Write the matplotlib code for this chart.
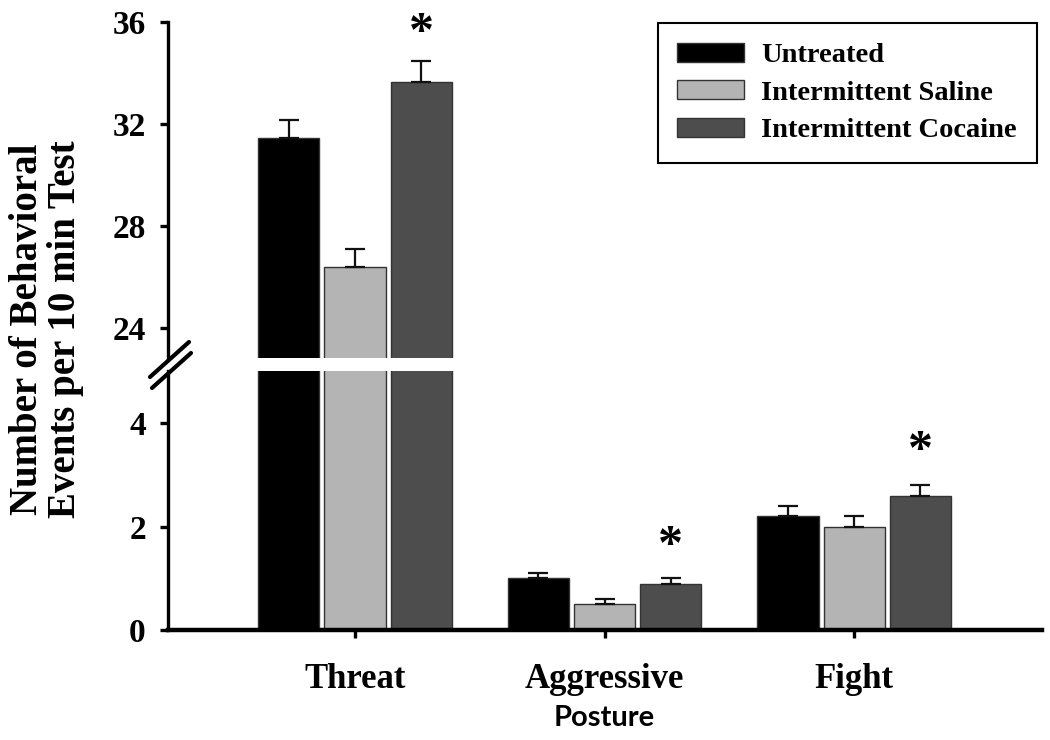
import matplotlib
matplotlib.use("Agg")
import matplotlib.pyplot as plt
import numpy as np
from matplotlib.lines import Line2D
from matplotlib.patches import Patch

categories = ["Threat", "Aggressive", "Fight"]
series_names = ["Untreated", "Intermittent Saline", "Intermittent Cocaine"]
untreated = [31.45, 1.0, 2.2]
saline = [26.4, 0.5, 2.0]
cocaine = [33.65, 0.9, 2.6]
untreated_err = [0.72, 0.1, 0.2]
saline_err = [0.68, 0.1, 0.2]
cocaine_err = [0.8, 0.1, 0.2]
colors = ["#000000", "#b4b4b4", "#4d4d4d"]

serif = ["Liberation Serif", "DejaVu Serif"]

fig = plt.figure(figsize=(10.5, 7.4), dpi=100)
ax_top = fig.add_axes([0.16, 0.5162, 0.8324, 0.4541])
ax_bot = fig.add_axes([0.16, 0.1486, 0.8324, 0.35])

x = np.arange(len(categories))
width = 0.245
offset = 0.265
all_vals = [untreated, saline, cocaine]
all_errs = [untreated_err, saline_err, cocaine_err]

for ax in (ax_top, ax_bot):
    for i, (vals, errs) in enumerate(zip(all_vals, all_errs)):
        xs = x + (i - 1) * offset
        ax.bar(xs, vals, width, color=colors[i], edgecolor="#333333", linewidth=1.0, zorder=2)
        ax.errorbar(xs, vals, yerr=[np.zeros(len(vals)), errs], fmt="none",
                    ecolor="#111111", elinewidth=1.6, capsize=7.0, capthick=1.6, zorder=3)
    ax.set_xlim(-0.7495, 2.753)
    ax.spines["right"].set_visible(False)
    ax.spines["top"].set_visible(False)
    ax.spines["left"].set_linewidth(2.4)
    ax.tick_params(axis="y", direction="out", length=6, width=2.4, pad=10)

ax_top.set_ylim(22.82, 36)
ax_top.set_yticks([24, 28, 32, 36])
ax_top.set_yticklabels(["24", "28", "32", "36"], fontfamily=serif, fontweight="bold", fontsize=24)
ax_top.spines["bottom"].set_visible(False)
ax_top.set_xticks([])

ax_bot.set_ylim(0, 5.01)
ax_bot.set_yticks([0, 2, 4])
ax_bot.set_yticklabels(["0", "2", "4"], fontfamily=serif, fontweight="bold", fontsize=24)
ax_bot.spines["bottom"].set_linewidth(3.2)
ax_bot.set_xticks(x)
ax_bot.set_xticklabels(categories, fontfamily=serif, fontweight="bold", fontsize=25)
ax_bot.tick_params(axis="x", direction="out", length=6, width=2.4, pad=18)
ax_bot.text(1, -1.70, "Posture", ha="center", va="center", fontfamily=["Lato", "DejaVu Sans"],
            fontweight="bold", fontsize=21, transform=ax_bot.transData, clip_on=False)

# significance asterisks
ax_top.text(x[0] + offset, 35.53, "*", ha="center", va="center", fontfamily=serif,
            fontweight="bold", fontsize=36, clip_on=False)
ax_bot.text(x[1] + offset, 1.61, "*", ha="center", va="center", fontfamily=serif,
            fontweight="bold", fontsize=36)
ax_bot.text(x[2] + offset, 3.45, "*", ha="center", va="center", fontfamily=serif,
            fontweight="bold", fontsize=36)

# axis break marks
W, H = 1050, 740
def fl(x0, y0, x1, y1, lw=3.0):
    fig.add_artist(Line2D([x0 / W, x1 / W], [1 - y0 / H, 1 - y1 / H], color="black",
                          lw=lw, solid_capstyle="round"))
fl(150, 377, 189, 342)
fl(152, 388, 191, 353)

# y label
fig.text(0.026, 0.555, "Number of Behavioral", rotation=90, ha="center", va="center",
         fontfamily=serif, fontweight="bold", fontsize=28)
fig.text(0.062, 0.555, "Events per 10 min Test", rotation=90, ha="center", va="center",
         fontfamily=serif, fontweight="bold", fontsize=28)

handles = [Patch(facecolor=c, edgecolor="#333333", linewidth=1.0) for c in colors]
leg = fig.legend(handles, series_names, loc="upper right", bbox_to_anchor=(1037 / W, 1 - 23 / H),
                 frameon=True, fancybox=False, edgecolor="black", framealpha=1,
                 prop={"family": serif, "weight": "bold", "size": 20.5},
                 handlelength=2.35, handleheight=0.65, handletextpad=0.6, labelspacing=0.42,
                 borderpad=0.7, borderaxespad=0)
leg.get_frame().set_linewidth(1.5)

fig.savefig("out.png", dpi=100)
